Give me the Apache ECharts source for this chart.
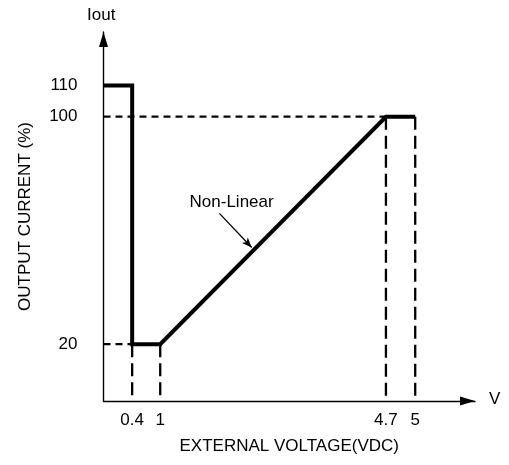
<!DOCTYPE html>
<html>
<head>
<meta charset="utf-8">
<script src="https://cdn.jsdelivr.net/npm/echarts@6/dist/echarts.min.js"></script>
<style>html,body{margin:0;padding:0;background:#fff;}#c{width:509px;height:465px;}</style>
</head>
<body>
<div id="c"></div>
<script>
// ---- data (real values) ----
const curveX = [0, 0.4, 0.4, 1, 4.7, 5];          // external voltage (VDC)
const curveY = [110, 110, 20, 20, 100, 100];      // output current (%)
const xTicks = [0.4, 1, 4.7, 5];
const yTicks = [20, 100, 110];
const hGuides = [[20, 0, 0.4], [100, 0, 4.7]];    // [y, x from, x to]
const vGuides = [[0.4, 20], [1, 20], [4.7, 100], [5, 100]]; // [x, y top]
const noteText = 'Non-Linear';
const noteFrom = [1.97, 66];
const noteTo = [2.5, 54];

// ---- schematic (non-uniform) axis scale ----
const xKnotsReal = [0, 0.4, 1, 4.7, 5];
const xKnotsAxis = [0, 0.47, 0.93, 4.63, 5.11];
const yKnotsReal = [0, 100, 110];
const yKnotsAxis = [0, 100, 111];
function pw(a, b, v) {
  let i = 0;
  while (i < a.length - 2 && v > a[i + 1]) i++;
  return b[i] + (v - a[i]) * (b[i + 1] - b[i]) / (a[i + 1] - a[i]);
}
const fx = v => pw(xKnotsReal, xKnotsAxis, v);
const fy = v => pw(yKnotsReal, yKnotsAxis, v);
function labelOf(ticks, f, v) {
  for (const t of ticks) if (Math.abs(f(t) - v) < 1e-6) return String(t);
  return '';
}

const FONT = '"Liberation Sans", Arial, sans-serif';
const FS = 17;
const txt = { color: '#000', fontSize: FS, fontFamily: FONT };

const series = [];
hGuides.forEach(g => series.push({
  type: 'line', symbol: 'none', silent: true,
  data: [[fx(g[1]), fy(g[0])], [fx(g[2]), fy(g[0])]],
  lineStyle: { color: '#000', width: 2.3, type: [7, 5] }
}));
vGuides.forEach(g => series.push({
  type: 'line', symbol: 'none', silent: true,
  data: [[fx(g[0]), fy(g[1])], [fx(g[0]), fy(0)]],
  lineStyle: { color: '#000', width: 2.3, type: [13, 6] }
}));
series.push({
  type: 'line', symbol: 'none', silent: true, z: 5,
  data: curveX.map((x, i) => [fx(x), fy(curveY[i])]),
  lineStyle: { color: '#000', width: 4, join: 'miter', cap: 'butt' },
  markLine: {
    silent: true, symbol: ['none', 'arrow'], symbolSize: [6, 10],
    label: { show: false },
    lineStyle: { color: '#000', width: 1.3, type: 'solid' },
    data: [[{ coord: [fx(noteFrom[0]), fy(noteFrom[1])] }, { coord: [fx(noteTo[0]), fy(noteTo[1])] }]]
  }
});

const chart = echarts.init(document.getElementById('c'), null, { renderer: 'canvas' });
chart.setOption({
  animation: false,
  backgroundColor: '#fff',
  grid: { left: 103.5, right: 34, top: 32, bottom: 64 },
  xAxis: {
    type: 'value', min: 0, max: 6.09,
    axisLine: { lineStyle: { color: '#000', width: 1.4 }, symbol: ['none', 'triangle'], symbolSize: [9, 15], symbolOffset: [0, -7.5] },
    axisTick: { show: false }, splitLine: { show: false },
    axisLabel: Object.assign({ customValues: xTicks.map(fx), formatter: v => labelOf(xTicks, fx, v), margin: 11 }, txt),
    name: 'EXTERNAL VOLTAGE(VDC)', nameLocation: 'middle', nameGap: 37, nameTextStyle: txt
  },
  yAxis: {
    type: 'value', min: 0, max: 129.8,
    axisLine: { lineStyle: { color: '#000', width: 1.4 }, symbol: ['none', 'triangle'], symbolSize: [9, 15], symbolOffset: [0, -7.5] },
    axisTick: { show: false }, splitLine: { show: false },
    axisLabel: Object.assign({ customValues: yTicks.map(fy), formatter: v => labelOf(yTicks, fy, v), margin: 26 }, txt),
    name: 'OUTPUT CURRENT (%)', nameLocation: 'middle', nameGap: 70, nameTextStyle: txt
  },
  series: series
});

const notePos = chart.convertToPixel({ gridIndex: 0 }, [fx(2.17), fy(70)]);
chart.setOption({
  graphic: [
    { type: 'text', left: 87, top: 7, style: { text: 'Iout', font: FS + 'px ' + FONT, fill: '#000' } },
    { type: 'text', left: 489, top: 391, style: { text: 'V', font: FS + 'px ' + FONT, fill: '#000' } },
    { type: 'text', x: notePos[0], y: notePos[1], style: { text: noteText, font: FS + 'px ' + FONT, fill: '#000', align: 'center', verticalAlign: 'middle' } }
  ]
});
</script>
</body>
</html>
